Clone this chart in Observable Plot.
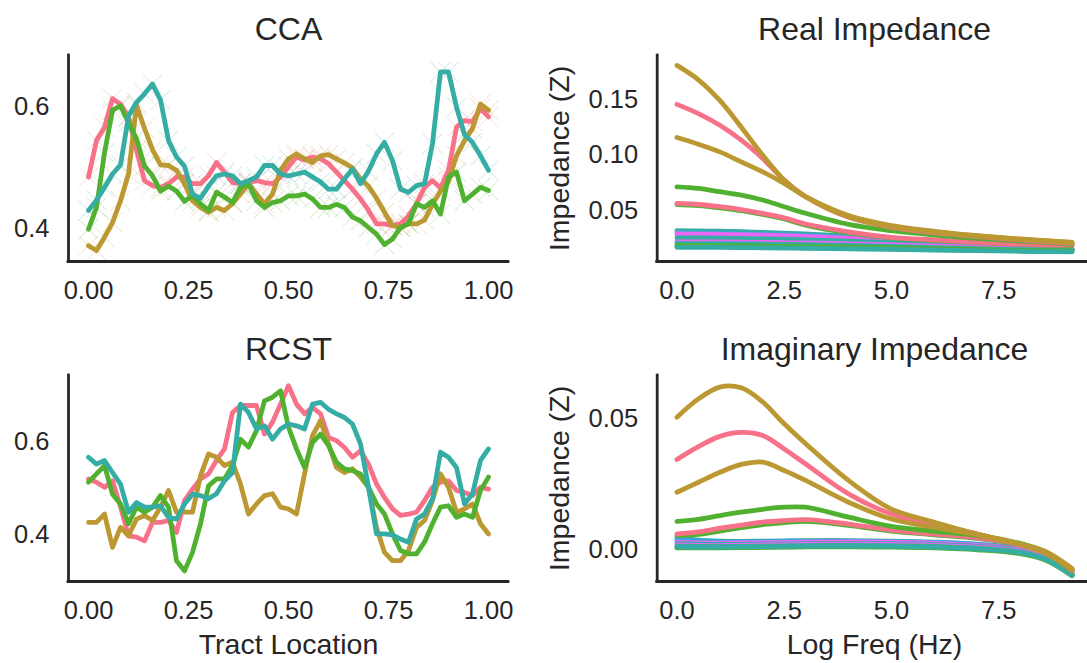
<!DOCTYPE html>
<html><head><meta charset="utf-8">
<script src="https://cdn.jsdelivr.net/npm/d3@7"></script>
<script src="https://cdn.jsdelivr.net/npm/@observablehq/plot@0.6"></script>
<style>
html,body{margin:0;padding:0;background:#fff;overflow:hidden;}
#wrap{position:relative;width:1087px;height:663px;overflow:hidden;background:#fff;}
.panel{position:absolute;}
</style></head><body><div id="wrap"></div>
<script>
// husl palette (6)
const pink = "#f77189", gold = "#bb9832", green = "#50b131", teal = "#36ada4", blue = "#3ba3ec", magenta = "#e866f4";

// Tract profile node locations
const tractLoc = [0,0.02,0.04,0.06,0.08,0.1,0.12,0.14,0.16,0.18,0.2,0.22,0.24,0.26,0.28,0.3,0.32,0.34,0.36,0.38,0.4,0.42,0.44,0.46,0.48,0.5,0.52,0.54,0.56,0.58,0.6,0.62,0.64,0.66,0.68,0.7,0.72,0.74,0.76,0.78,0.8,0.82,0.84,0.86,0.88,0.9,0.92,0.94,0.96,0.98,1];

// CCA profiles
const ccaPink = [.485,.545,.567,.614,.605,.584,.529,.479,.471,.468,.474,.485,.485,.474,.474,.487,.509,.493,.476,.474,.476,.479,.476,.474,.485,.502,.518,.513,.518,.515,.507,.493,.479,.465,.449,.430,.408,.408,.405,.408,.421,.441,.468,.479,.467,.496,.567,.578,.576,.598,.584];
const ccaGold = [.372,.364,.386,.410,.446,.490,.603,.565,.530,.505,.504,.496,.474,.446,.435,.427,.435,.430,.441,.457,.474,.457,.441,.457,.496,.515,.523,.515,.509,.520,.522,.515,.508,.500,.482,.470,.450,.427,.405,.402,.408,.408,.414,.440,.462,.478,.520,.545,.565,.605,.595];
const ccaGreen = [.399,.435,.525,.595,.602,.575,.548,.503,.487,.462,.470,.462,.445,.455,.441,.430,.460,.452,.443,.468,.474,.446,.435,.443,.446,.454,.454,.457,.449,.435,.435,.440,.435,.419,.413,.402,.391,.374,.383,.402,.408,.441,.435,.446,.424,.485,.493,.446,.457,.468,.463];
const ccaTeal = [.430,.447,.468,.490,.505,.585,.608,.622,.638,.612,.545,.518,.503,.457,.450,.470,.487,.490,.487,.474,.479,.485,.504,.504,.490,.487,.490,.493,.485,.477,.465,.465,.482,.498,.474,.495,.523,.542,.512,.465,.460,.471,.474,.540,.658,.658,.600,.555,.542,.520,.496];

// RCST profiles
const rcstPink = [.520,.513,.502,.516,.460,.397,.394,.386,.426,.426,.430,.404,.473,.498,.520,.531,.560,.585,.664,.679,.679,.679,.617,.643,.682,.722,.682,.661,.675,.661,.610,.603,.588,.567,.581,.552,.509,.480,.455,.441,.444,.448,.473,.502,.513,.516,.495,.491,.484,.502,.498];
const rcstGold = [.426,.426,.444,.372,.415,.397,.433,.441,.430,.459,.495,.448,.448,.448,.527,.574,.567,.549,.556,.509,.444,.466,.484,.488,.459,.455,.444,.530,.614,.646,.596,.545,.534,.542,.524,.502,.415,.361,.343,.343,.365,.415,.430,.473,.531,.502,.448,.455,.466,.423,.401];
const rcstGreen = [.513,.531,.549,.487,.466,.423,.459,.448,.459,.484,.459,.343,.321,.361,.423,.505,.520,.520,.549,.606,.589,.625,.689,.697,.711,.632,.585,.545,.599,.617,.592,.556,.542,.538,.531,.502,.466,.444,.401,.365,.358,.358,.383,.423,.459,.462,.437,.444,.437,.495,.524];
const rcstTeal = [.567,.552,.560,.534,.509,.448,.469,.459,.459,.462,.437,.433,.466,.487,.484,.477,.488,.516,.534,.682,.664,.628,.635,.606,.628,.639,.635,.628,.682,.686,.671,.661,.653,.639,.596,.502,.401,.401,.399,.390,.383,.433,.444,.477,.578,.567,.545,.466,.488,.560,.585];

// Log frequency grid
const logFreq = [0,0.5,1,1.5,2,2.5,3,4,5,6,7,8,8.6,9.21];

// Real impedance
const realGoldA = [.1805,.1676,.149,.125,.0998,.0774,.0625,.0446,.0356,.031,.0272,.0243,.0228,.0215];
const realPinkA = [.1455,.1372,.1267,.1133,.0968,.0774,.0625,.044,.035,.0302,.0266,.0237,.0222,.0205];
const realGoldB = [.1157,.1097,.1028,.0938,.0849,.0744,.0625,.0455,.0365,.0314,.0275,.0245,.023,.0215];
const realGreenA = [.0714,.070,.067,.064,.0595,.0535,.0476,.0377,.032,.0281,.0251,.0227,.0215,.0198];
const realPinkB = [.0565,.0555,.0535,.051,.0476,.0435,.038,.031,.026,.0237,.0216,.0201,.0195,.019];
const realGreenB = [.0555,.0545,.0525,.050,.0466,.0425,.037,.030,.0255,.0232,.0212,.0198,.019,.0185];
const realTealA = [.032,.0318,.0315,.031,.0305,.0298,.029,.0272,.0245,.0218,.0195,.0175,.0165,.0155];
const realBlueA = [.0295,.0294,.0292,.0289,.0285,.028,.0274,.026,.0238,.0214,.0192,.0173,.0164,.0154];
const realMagA = [.029,.0289,.0287,.0284,.028,.0275,.0268,.0252,.0232,.021,.019,.0174,.0166,.0158];
const realTealB = [.0255,.0254,.0252,.025,.0247,.0243,.0238,.0226,.0212,.0196,.0178,.0162,.0155,.0148];
const realMagB = [.022,.0219,.0218,.0216,.0214,.0212,.0209,.0202,.0193,.0182,.0171,.016,.0156,.0152];
const realTealC = [.0205,.0204,.0203,.0201,.0199,.0197,.0194,.0187,.0178,.0168,.0158,.0149,.0145,.0142];
const realGreenC = [.0185,.0185,.0184,.0183,.0181,.0179,.0177,.0171,.0164,.0156,.0149,.0143,.014,.0138];
const realGreenD = [.0178,.0178,.0177,.0176,.0174,.0172,.017,.0164,.0157,.015,.0144,.0139,.0136,.0134];
const realTealD = [.017,.017,.0169,.0168,.0166,.0164,.0162,.0157,.0151,.0145,.014,.0135,.0132,.013];

// Imaginary impedance
const imagGoldA = [.0506,.0576,.0621,.0618,.0564,.0481,.0405,.0265,.0156,.0106,.0061,.0023,-.0006,-.0070];
const imagPinkA = [.0345,.0394,.0433,.0448,.0436,.0385,.0328,.0214,.0137,.0097,.0061,.0019,-.0013,-.0075];
const imagGoldB = [.022,.0258,.0296,.0326,.0335,.0303,.0265,.0182,.0118,.0086,.0058,.002,-.0013,-.0075];
const imagGreenA = [.0109,.0117,.0131,.0144,.0155,.0163,.0163,.0125,.009,.0071,.0055,.0025,-.0009,-.0078];
const imagPinkB = [.0061,.0069,.0083,.0095,.0106,.0112,.0116,.0099,.0076,.0061,.0046,.0023,-.0009,-.008];
const imagGreenB = [.0055,.006,.0072,.0085,.0097,.0104,.0109,.0094,.0072,.0058,.0044,.0021,-.001,-.0082];
const imagTealA = [.0048,.0038,.0034,.0033,.0034,.0035,.0036,.0036,.0034,.003,.0022,.0005,-.0025,-.0092];
const imagBlueA = [.004,.0033,.003,.003,.0031,.0032,.0033,.0033,.0032,.0028,.002,.0003,-.0027,-.0093];
const imagMagA = [.003,.0027,.0026,.0027,.0028,.0029,.003,.0031,.003,.0026,.0018,.0001,-.0028,-.0094];
const imagTealB = [.0025,.0022,.0021,.0021,.0022,.0023,.0024,.0025,.0024,.0021,.0014,-.0002,-.003,-.0095];
const imagMagB = [.002,.0018,.0017,.0018,.0019,.002,.0021,.0022,.0021,.0018,.0011,-.0004,-.0031,-.0095];
const imagTealC = [.0015,.0014,.0013,.0014,.0015,.0016,.0017,.0018,.0017,.0014,.0007,-.0008,-.0034,-.0096];
const imagGreenC = [.001,.0009,.0009,.001,.0011,.0012,.0013,.0014,.0013,.001,.0003,-.0012,-.0037,-.0097];
const imagGreenD = [.0008,.0008,.0008,.0009,.001,.0011,.0012,.0012,.0011,.0008,.0001,-.0014,-.0039,-.0098];
const imagTealD = [.0012,.0011,.0011,.0012,.0013,.0014,.0015,.0015,.0014,.0011,.0004,-.001,-.0036,-.0097];

// Tick values
const tractTicks = [0, 0.25, 0.5, 0.75, 1];
const ccaYTicks = [0.4, 0.6];
const rcstYTicks = [0.4, 0.6];
const freqTicks = [0, 2.5, 5, 7.5];
const realYTicks = [0.05, 0.10, 0.15];
const imagYTicks = [0.00, 0.05];

const FONT = "'Liberation Sans', Arial, Helvetica, sans-serif";
const INK = "#262626";

function toRows(xs, series) {
  return series.flatMap((s, k) => s.values.map((v, i) => ({x: xs[i], y: v, id: k, color: s.color})));
}

function panel(cfg) {
  const innerH = 206;
  const marks = [
    Plot.axisX({ticks: cfg.xTicks, tickFormat: d3.format(cfg.xFmt), tickSize: 0, tickPadding: 19, label: null}),
    Plot.axisY({ticks: cfg.yTicks, tickFormat: d3.format(cfg.yFmt), tickSize: 0, tickPadding: 19, label: null}),
  ];
  if (cfg.markers) {
    marks.push(Plot.dot(cfg.rows, {x: "x", y: "y", stroke: "color", symbol: "times", r: 9, strokeWidth: 1, strokeOpacity: 0.28}));
  }
  marks.push(Plot.line(cfg.rows, {x: "x", y: "y", z: "id", stroke: "color", strokeWidth: 4.8, curve: cfg.curve || "linear", strokeLinejoin: "round"}));
  marks.push(Plot.ruleX([cfg.xDomain[0]], {stroke: INK, strokeWidth: 2.8, strokeLinecap: "square"}));
  marks.push(Plot.ruleY([cfg.yDomain[0]], {stroke: INK, strokeWidth: 2.8, strokeLinecap: "square"}));
  marks.push(Plot.text([cfg.title], {text: d => d, frameAnchor: "top", lineAnchor: "middle", textAnchor: "middle", dy: -26, fontSize: 32, fill: INK}));
  if (cfg.xLabel) marks.push(Plot.text([cfg.xLabel], {text: d => d, frameAnchor: "bottom", lineAnchor: "middle", textAnchor: "middle", dy: 63, fontSize: 28.5, fill: INK}));
  if (cfg.yLabel) marks.push(Plot.text([cfg.yLabel], {text: d => d, frameAnchor: "left", lineAnchor: "middle", textAnchor: "middle", dx: -97, rotate: -90, fontSize: 28.5, fill: INK}));
  const svg = Plot.plot({
    width: cfg.width, height: cfg.height,
    marginLeft: cfg.ml, marginRight: cfg.mr, marginTop: 55, marginBottom: cfg.height - 55 - innerH,
    style: {fontFamily: FONT, fontSize: "25.5px", color: INK, background: "transparent", maxWidth: "none", overflow: "visible"},
    x: {domain: cfg.xDomain},
    y: {domain: cfg.yDomain},
    color: {type: "identity"},
    marks
  });
  const div = document.createElement("div");
  div.className = "panel";
  div.style.left = cfg.left + "px";
  div.style.top = cfg.top + "px";
  div.style.width = cfg.width + "px";
  div.appendChild(svg);
  document.getElementById("wrap").appendChild(div);
}

const ccaRows = toRows(tractLoc, [
  {color: pink, values: ccaPink}, {color: gold, values: ccaGold},
  {color: green, values: ccaGreen}, {color: teal, values: ccaTeal}]);
const rcstRows = toRows(tractLoc, [
  {color: pink, values: rcstPink}, {color: gold, values: rcstGold},
  {color: green, values: rcstGreen}, {color: teal, values: rcstTeal}]);
const realRows = toRows(logFreq, [
  {color: teal, values: realTealA}, {color: blue, values: realBlueA}, {color: magenta, values: realMagA},
  {color: teal, values: realTealB}, {color: magenta, values: realMagB}, {color: teal, values: realTealC},
  {color: green, values: realGreenC}, {color: green, values: realGreenD}, {color: teal, values: realTealD},
  {color: green, values: realGreenB}, {color: pink, values: realPinkB}, {color: green, values: realGreenA},
  {color: pink, values: realPinkA}, {color: gold, values: realGoldB}, {color: gold, values: realGoldA}]);
const imagRows = toRows(logFreq, [
  {color: teal, values: imagTealA}, {color: blue, values: imagBlueA}, {color: magenta, values: imagMagA},
  {color: teal, values: imagTealB}, {color: magenta, values: imagMagB}, {color: teal, values: imagTealC},
  {color: green, values: imagGreenC}, {color: green, values: imagGreenD}, {color: teal, values: imagTealD},
  {color: green, values: imagGreenB}, {color: pink, values: imagPinkB}, {color: green, values: imagGreenA},
  {color: pink, values: imagPinkA}, {color: gold, values: imagGoldB}, {color: gold, values: imagGoldA}]);

const leftCfg = {width: 530, ml: 68, mr: 22, xDomain: [-0.05, 1.05], xTicks: tractTicks, xFmt: ".2f", yFmt: ".1f"};
const rightCfg = {width: 561.3, ml: 126.7, mr: 0, xDomain: [-0.46, 9.67], xTicks: freqTicks, xFmt: ".1f", yFmt: ".2f", curve: "catmull-rom"};

panel({...leftCfg, left: 0, top: 0, height: 320, rows: ccaRows, yDomain: [0.346, 0.685], yTicks: ccaYTicks, title: "CCA", markers: true});
panel({...rightCfg, left: 530, top: 0, height: 320, rows: realRows, yDomain: [0.0043, 0.1894], yTicks: realYTicks, title: "Real Impedance", yLabel: "Impedance (Z)"});
panel({...leftCfg, left: 0, top: 320, height: 343, rows: rcstRows, yDomain: [0.298, 0.744], yTicks: rcstYTicks, title: "RCST", xLabel: "Tract Location"});
panel({...rightCfg, left: 530, top: 320, height: 343, rows: imagRows, yDomain: [-0.012, 0.0665], yTicks: imagYTicks, title: "Imaginary Impedance", yLabel: "Impedance (Z)", xLabel: "Log Freq (Hz)"});
</script>
</body></html>
